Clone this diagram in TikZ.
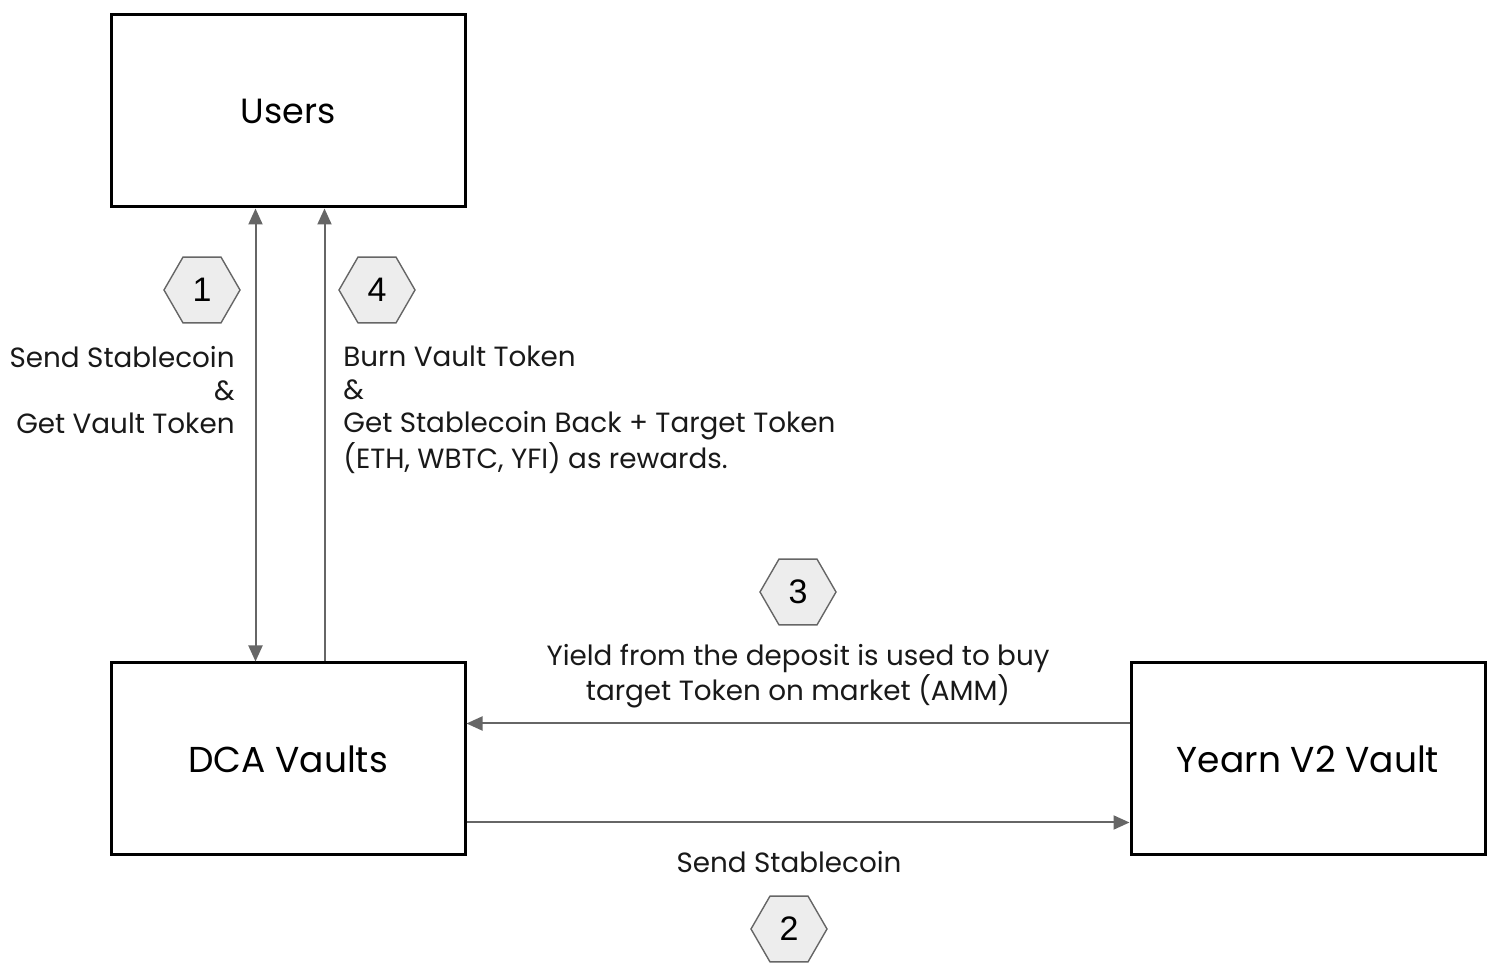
\documentclass[tikz,border=0pt]{standalone}
\usepackage{fontspec}
\setmainfont{Poppins}
\newfontfamily\numfont{Liberation Sans}
\usetikzlibrary{positioning, calc, arrows.meta, shapes.geometric}

\tikzset{
    block/.style={draw=black, line width=1.5pt, minimum width=177pt, minimum height=96pt, inner sep=0pt},
    stepnum/.style={draw=black!60, fill=black!7, line width=0.7pt, regular polygon, regular polygon sides=6,
        minimum size=38pt, inner sep=0pt, font=\numfont\fontsize{17}{17}\selectfont},
    flow/.style={draw=black!60, line width=1pt, -{Triangle[length=8pt, width=7pt]}},
    biflow/.style={flow, {Triangle[length=8pt, width=7pt]}-{Triangle[length=8pt, width=7pt]}},
    note/.style={font=\fontsize{13.9}{16.5}\selectfont, inner sep=0pt, text=black!90}
}

\begin{document}
\begin{tikzpicture}[x=0.5pt, y=-0.5pt]

    \useasboundingbox (0,0) rectangle (1500,977);

    % ;- the three boxes ;-
    \node[block, font=\fontsize{17.5}{17.5}\selectfont] (users) at (288,111) {Users};
    \node[block, font=\fontsize{18}{18}\selectfont] (dca) at (288,759) {DCA Vaults};
    \node[block, font=\fontsize{18}{18}\selectfont] (yearn) at (1308,759) {Yearn V2 Vault};

    % ;- users <-> vaults ;-
    \draw[biflow] ([xshift=73pt]users.south west) -- ([xshift=73pt]dca.north west);
    \draw[flow] ([xshift=107.5pt]dca.north west) -- ([xshift=107.5pt]users.south west);

    % ;- vaults <-> yearn ;-
    \draw[flow] ([yshift=-31pt]yearn.north west) -- ([yshift=-31pt]dca.north east);
    \draw[flow] ([yshift=-80.5pt]dca.north east) -- ([yshift=-80.5pt]yearn.north west);

    % step markers
    \node[stepnum] (s1) at (202,290) {1};
    \node[stepnum] (s4) at (377,290) {4};
    \node[stepnum] (s3) at (798,592) {3};
    \node[stepnum] (s2) at (789,929) {2};

    % labels
    \node[note, align=right, anchor=north east] (deposit) at (235,346)
        {Send Stablecoin\\\&\\Get Vault Token};
    \node[note, align=left, anchor=north west] (withdraw) at (343,346)
        {Burn Vault Token\\\&\\Get Stablecoin Back + Target Token\\(ETH, WBTC, YFI) as rewards.};
    \node[note, align=center] (yield) at (798,676)
        {Yield from the deposit is used to buy\\target Token on market (AMM)};
    \node[note] (send) at (789,862) {Send Stablecoin};

\end{tikzpicture}
\end{document}
